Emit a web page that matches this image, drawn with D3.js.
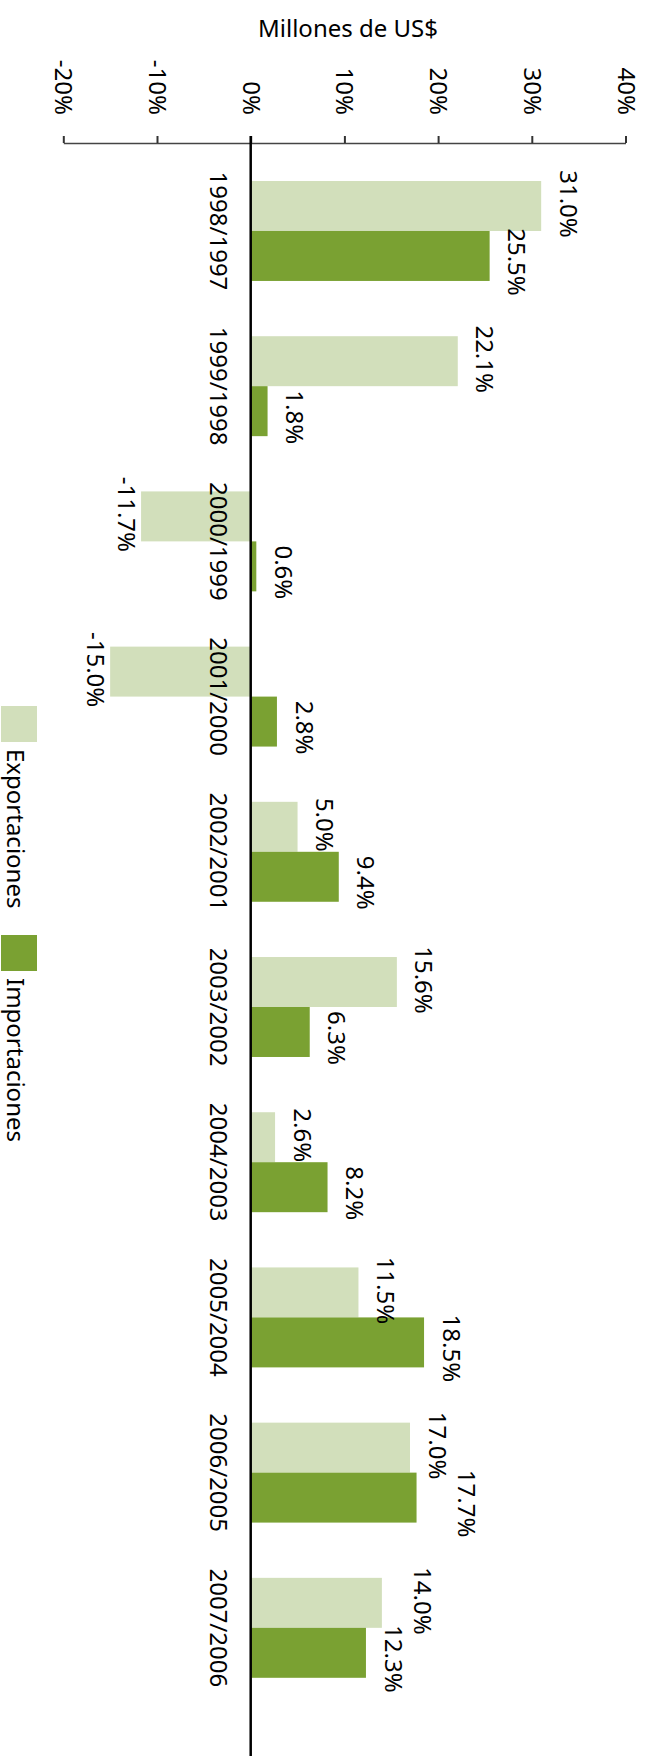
<!DOCTYPE html>
<html>
<head>
<meta charset="utf-8">
<script src="https://cdn.jsdelivr.net/npm/d3@7"></script>
<style>
  html, body { margin: 0; padding: 0; background: #fff; }
  svg { display: block; }
  text { font-family: "Noto Sans", "Open Sans", sans-serif; fill: #000; }
</style>
</head>
<body>
<script>
// ---- data ----
const categories = ["1998/1997","1999/1998","2000/1999","2001/2000","2002/2001","2003/2002","2004/2003","2005/2004","2006/2005","2007/2006"];
const exportaciones = [31.0, 22.1, -11.7, -15.0, 5.0, 15.6, 2.6, 11.5, 17.0, 14.0];
const importaciones = [25.5, 1.8, 0.6, 2.8, 9.4, 6.3, 8.2, 18.5, 17.7, 12.3];
const seriesNames = ["Exportaciones", "Importaciones"];
const tickValues = [-20, -10, 0, 10, 20, 30, 40];
const titleText = "Millones de US$";

// ---- layout ----
const W = 648, H = 1756;
const colors = {Exportaciones: "#d2dfbb", Importaciones: "#7aa132"};
const FS = 24;

const svg = d3.select("body").append("svg").attr("width", W).attr("height", H);

const x = d3.scaleLinear().domain([-20, 40]).range([63.3, 625.5]);
const y = d3.scaleBand().domain(categories).range([181, 1677.8]).paddingInner(0.356).paddingOuter(0);
const ySub = d3.scaleBand().domain(seriesNames).range([0, y.bandwidth()]).padding(0);

const series = {Exportaciones: exportaciones, Importaciones: importaciones};
const rows = [];
categories.forEach((c, i) => {
  seriesNames.forEach(s => rows.push({cat: c, series: s, value: series[s][i]}));
});

// label positions: beside bar end, centred on the bar; nudge apart when the
// two labels of a group would collide.
rows.forEach(d => {
  d.lx = d.value >= 0 ? x(d.value) + 27 : x(d.value) - 15;
  d.ly = y(d.cat) + ySub(d.series) + ySub.bandwidth() / 2 + (d.series === "Importaciones" ? 6 : -2);
});
categories.forEach(c => {
  const [e, im] = rows.filter(r => r.cat === c);
  if (e.value >= 0 && im.value >= 0 && Math.abs(e.lx - im.lx) < 26) {
    const hi = e.value >= im.value ? e : im;
    const lo = hi === e ? im : e;
    hi.lx = lo.lx + 29;
  }
});

// title
svg.append("text")
  .attr("x", 348).attr("y", 37)
  .attr("text-anchor", "middle")
  .style("font-size", FS + "px")
  .text(titleText);

// axis on top
const axisG = svg.append("g").attr("transform", "translate(0,143)")
  .call(d3.axisTop(x).tickValues(tickValues).tickSize(7).tickSizeOuter(0).tickFormat(d => d + "%"));
axisG.select(".domain").attr("stroke", "#444").attr("stroke-width", 1.6);
axisG.selectAll(".tick line").attr("stroke", "#333").attr("stroke-width", 2);
axisG.selectAll(".tick text")
  .attr("y", 0).attr("x", 0).attr("dy", "0.35em")
  .attr("transform", "translate(0,-28) rotate(90)")
  .attr("text-anchor", "end")
  .style("font-size", FS + "px")
  .style("font-family", '"Noto Sans", sans-serif')
  .attr("fill", "#000");

// bars
svg.append("g").selectAll("rect").data(rows).join("rect")
  .attr("x", d => x(Math.min(0, d.value)))
  .attr("width", d => Math.abs(x(d.value) - x(0)))
  .attr("y", d => y(d.cat) + ySub(d.series))
  .attr("height", ySub.bandwidth())
  .attr("fill", d => colors[d.series]);

// value labels
svg.append("g").selectAll("text").data(rows).join("text")
  .attr("transform", d => `translate(${d.lx},${d.ly}) rotate(90)`)
  .attr("dy", "0.35em")
  .attr("text-anchor", "middle")
  .style("font-size", FS + "px")
  .text(d => d.value.toFixed(1) + "%");

// category labels
svg.append("g").selectAll("text").data(categories).join("text")
  .attr("transform", d => `translate(218.5,${y(d) + y.bandwidth() / 2}) rotate(90)`)
  .attr("dy", "0.35em")
  .attr("text-anchor", "middle")
  .style("font-size", FS + "px")
  .text(d => d);

// zero line
svg.append("line")
  .attr("x1", x(0)).attr("x2", x(0))
  .attr("y1", 136).attr("y2", H)
  .attr("stroke", "#000").attr("stroke-width", 2.5);

// legend
const legendY = d3.scaleOrdinal().domain(seriesNames).range([706, 935]);
const lg = svg.append("g");
lg.selectAll("rect").data(seriesNames).join("rect")
  .attr("x", 1).attr("y", d => legendY(d))
  .attr("width", 36).attr("height", 36)
  .attr("fill", d => colors[d]);
lg.selectAll("text").data(seriesNames).join("text")
  .attr("transform", d => `translate(15.8,${legendY(d) + 43}) rotate(90)`)
  .attr("dy", "0.35em")
  .attr("text-anchor", "start")
  .style("font-size", FS + "px")
  .text(d => d);
</script>
</body>
</html>
